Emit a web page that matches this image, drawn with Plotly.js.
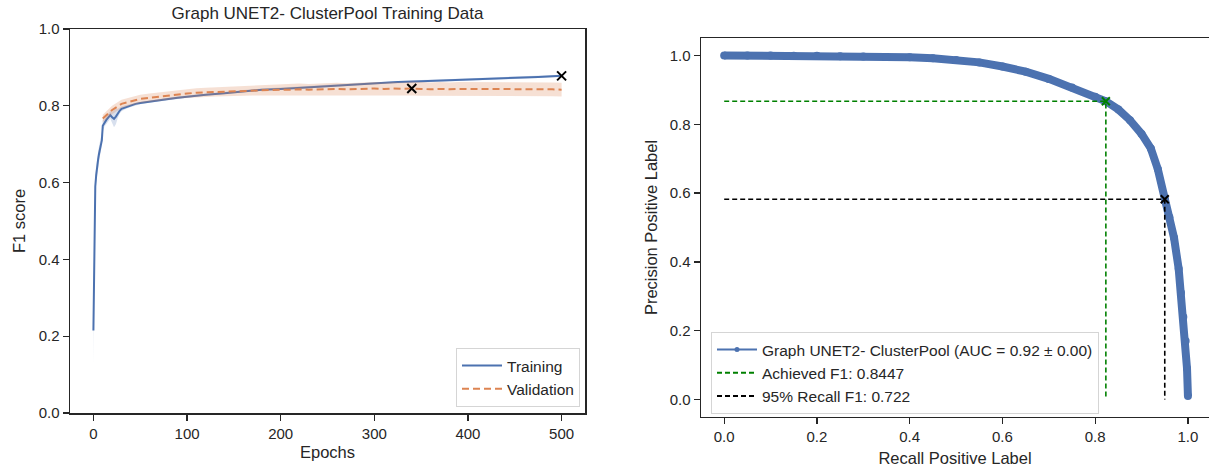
<!DOCTYPE html>
<html>
<head>
<meta charset="utf-8">
<script src="https://cdn.plot.ly/plotly-3.0.1.min.js"></script>
<style>html,body{margin:0;padding:0;background:#fff;overflow:hidden}#chart{width:1209px;height:468px}</style>
</head>
<body>
<div id="chart"></div>
<script>
// ---- Left chart: training curves ----
const trainEpochs = [0,1,2,3,4,5,6,7,8,9,10,12,14,16,18,20,22,24,26,28,30,35,40,45,50,60,70,80,90,100,120,140,160,180,200,225,250,275,300,325,350,375,400,425,450,475,500];
const trainF1 = [0.215,0.50,0.59,0.62,0.645,0.66,0.675,0.69,0.70,0.71,0.748,0.757,0.764,0.770,0.776,0.770,0.766,0.772,0.780,0.787,0.792,0.797,0.801,0.805,0.807,0.811,0.815,0.818,0.821,0.824,0.829,0.833,0.838,0.842,0.844,0.848,0.852,0.855,0.859,0.862,0.864,0.866,0.869,0.871,0.873,0.875,0.878];
const trainStd = [0.09,0.05,0.03,0.02,0.02,0.02,0.02,0.02,0.02,0.02,0.015,0.01,0.01,0.01,0.01,0.015,0.022,0.02,0.012,0.008,0.006,0.005,0.004,0.004,0.003,0.003,0.003,0.003,0.003,0.003,0.003,0.003,0.003,0.003,0.003,0.003,0.003,0.003,0.003,0.003,0.003,0.003,0.003,0.003,0.003,0.003,0.003];

const valEpochs = [10,20,30,40,50,60,70,80,90,100,110,120,130,140,150,160,170,180,190,200,210,220,230,240,250,260,270,280,290,300,310,320,330,340,350,360,370,380,390,400,410,420,430,440,450,460,470,480,490,500];
const valF1 = [0.767,0.789,0.805,0.812,0.818,0.821,0.824,0.827,0.830,0.832,0.834,0.835,0.836,0.837,0.838,0.839,0.840,0.841,0.841,0.842,0.842,0.843,0.842,0.843,0.843,0.844,0.843,0.844,0.844,0.845,0.844,0.845,0.844,0.845,0.844,0.843,0.844,0.843,0.844,0.844,0.843,0.844,0.843,0.844,0.844,0.843,0.844,0.843,0.843,0.842];
const valStd = [0.010,0.011,0.011,0.011,0.011,0.011,0.011,0.011,0.011,0.011,0.012,0.012,0.012,0.012,0.012,0.013,0.013,0.013,0.014,0.014,0.015,0.015,0.015,0.015,0.016,0.016,0.016,0.016,0.017,0.017,0.017,0.017,0.017,0.018,0.018,0.018,0.018,0.018,0.018,0.018,0.018,0.018,0.018,0.018,0.018,0.018,0.018,0.018,0.018,0.018];

const bestTrain = {epoch: 500, f1: 0.878};
const bestVal = {epoch: 340, f1: 0.845};

// ---- Right chart: precision-recall ----
const recall = [0,0.05,0.10,0.15,0.20,0.25,0.30,0.35,0.40,0.45,0.50,0.55,0.60,0.65,0.70,0.75,0.80,0.823,0.85,0.875,0.90,0.92,0.935,0.95,0.96,0.97,0.98,0.985,0.99,0.995,0.998,1.0];
const precision = [1.0,1.0,1.0,0.999,0.999,0.998,0.997,0.996,0.995,0.992,0.987,0.980,0.968,0.953,0.932,0.907,0.880,0.867,0.843,0.812,0.772,0.730,0.670,0.582,0.53,0.47,0.38,0.31,0.24,0.17,0.09,0.01];
const achieved = {recall: 0.823, precision: 0.867, label: "Achieved F1: 0.8447"};
const recall95 = {recall: 0.95, precision: 0.582, label: "95% Recall F1: 0.722"};
const curveLabel = "Graph UNET2- ClusterPool (AUC = 0.92 \u00b1 0.00)";

const BLUE = '#4c72b0', ORANGE = '#dd8452', INK = '#262626';

function band(xs, m, s) {
  const up = m.map((v, i) => v + s[i]);
  const lo = m.map((v, i) => v - s[i]);
  return {x: xs.concat(xs.slice().reverse()), y: up.concat(lo.reverse())};
}
const tb = band(trainEpochs, trainF1, trainStd);
const vb = band(valEpochs, valF1, valStd);

const traces = [
  {x: tb.x, y: tb.y, fill: 'toself', fillcolor: 'rgba(76,114,176,0.22)', line: {width: 0}, mode: 'lines', showlegend: false, hoverinfo: 'skip', xaxis: 'x', yaxis: 'y'},
  {x: trainEpochs, y: trainF1, mode: 'lines', name: 'Training', line: {color: BLUE, width: 2}, xaxis: 'x', yaxis: 'y', legend: 'legend'},
  {x: vb.x, y: vb.y, fill: 'toself', fillcolor: 'rgba(221,132,82,0.25)', line: {width: 0}, mode: 'lines', showlegend: false, hoverinfo: 'skip', xaxis: 'x', yaxis: 'y'},
  {x: valEpochs, y: valF1, mode: 'lines', name: 'Validation', line: {color: ORANGE, width: 2, dash: '7px,4px'}, xaxis: 'x', yaxis: 'y', legend: 'legend'},
  {x: [bestTrain.epoch, bestVal.epoch], y: [bestTrain.f1, bestVal.f1], mode: 'markers', marker: {symbol: 'x-thin', size: 9, line: {color: '#000', width: 2}}, showlegend: false, xaxis: 'x', yaxis: 'y'},

  // right chart
  {x: recall, y: precision, mode: 'lines+markers', line: {color: BLUE, width: 8}, marker: {color: BLUE, size: 8}, showlegend: false, xaxis: 'x2', yaxis: 'y2'},
  {x: [0, achieved.recall, achieved.recall], y: [achieved.precision, achieved.precision, 0], mode: 'lines', line: {color: 'green', width: 1.6, dash: '5px,3px'}, showlegend: false, xaxis: 'x2', yaxis: 'y2'},
  {x: [0, recall95.recall, recall95.recall], y: [recall95.precision, recall95.precision, 0], mode: 'lines', line: {color: '#000', width: 1.6, dash: '5px,3px'}, showlegend: false, xaxis: 'x2', yaxis: 'y2'},
  {x: [achieved.recall], y: [achieved.precision], mode: 'markers', marker: {symbol: 'x-thin', size: 8, line: {color: 'green', width: 2}}, showlegend: false, xaxis: 'x2', yaxis: 'y2'},
  {x: [recall95.recall], y: [recall95.precision], mode: 'markers', marker: {symbol: 'x-thin', size: 8, line: {color: '#000', width: 2}}, showlegend: false, xaxis: 'x2', yaxis: 'y2'},
  // legend entries for right chart
  {x: [null], y: [null], mode: 'lines+markers', name: curveLabel, line: {color: BLUE, width: 2}, marker: {color: BLUE, size: 5}, xaxis: 'x2', yaxis: 'y2', legend: 'legend2', legendgroup: 'a'},
  {x: [null], y: [null], mode: 'lines', name: achieved.label, line: {color: 'green', width: 2, dash: '5px,3px'}, xaxis: 'x2', yaxis: 'y2', legend: 'legend2', legendgroup: 'b'},
  {x: [null], y: [null], mode: 'lines', name: recall95.label, line: {color: '#000', width: 2, dash: '5px,3px'}, xaxis: 'x2', yaxis: 'y2', legend: 'legend2', legendgroup: 'c'}
];

const axisCommon = {
  showline: true, linecolor: INK, linewidth: 1.5, mirror: true,
  ticks: 'outside', ticklen: 6, tickwidth: 1.3, tickcolor: INK,
  showgrid: false, zeroline: false, automargin: false,
  tickfont: {size: 15, color: INK}
};
const FONT = 'Liberation Sans, Arial, sans-serif';
const TITLE_FONT = {size: 16.5, color: INK};

const layout = {
  width: 1209, height: 468,
  margin: {l: 0, r: 0, t: 0, b: 0},
  paper_bgcolor: '#fff', plot_bgcolor: '#fff',
  font: {family: FONT, size: 15, color: INK},
  title: {text: 'Graph UNET2- ClusterPool Training Data', x: 327.5/1209, xanchor: 'center', y: 1 - 13/468, yanchor: 'middle', font: {size: 17, color: INK}},
  xaxis: Object.assign({}, axisCommon, {domain: [70/1209, 585/1209], range: [-25, 525], dtick: 100, tick0: 0, anchor: 'y',
    title: {text: 'Epochs', font: TITLE_FONT, standoff: 6}}),
  yaxis: Object.assign({}, axisCommon, {domain: [1 - 413/468, 1 - 29/468], range: [0, 1], dtick: 0.2, tick0: 0, tickformat: '.1f', anchor: 'x',
    title: {text: 'F1 score', font: TITLE_FONT, standoff: 9}}),
  xaxis2: Object.assign({}, axisCommon, {domain: [701/1209, 1], range: [-0.05, 1.0454], dtick: 0.2, tick0: 0, tickformat: '.1f', anchor: 'y2',
    title: {text: 'Recall Positive Label', font: TITLE_FONT, standoff: 8}}),
  yaxis2: Object.assign({}, axisCommon, {domain: [1 - 416.7/468, 1 - 38.3/468], range: [-0.05, 1.05], dtick: 0.2, tick0: 0, tickformat: '.1f', anchor: 'x2', mirror: false,
    title: {text: 'Precision Positive Label', font: TITLE_FONT, standoff: 8}}),
  legend: {x: 580/1209, y: 1 - 407/468, xanchor: 'right', yanchor: 'bottom', bgcolor: 'rgba(255,255,255,0.8)', bordercolor: '#d5d5d5', borderwidth: 1, font: {size: 15.5, color: INK}, itemwidth: 40},
  legend2: {x: 711/1209, y: 1 - 332/468, xanchor: 'left', yanchor: 'top', bgcolor: 'rgba(255,255,255,0.8)', bordercolor: '#d5d5d5', borderwidth: 1, font: {size: 15.5, color: INK}, tracegroupgap: 0, itemwidth: 40},
  showlegend: true
};

Plotly.newPlot('chart', traces, layout, {displayModeBar: false, staticPlot: true});
</script>
</body>
</html>
